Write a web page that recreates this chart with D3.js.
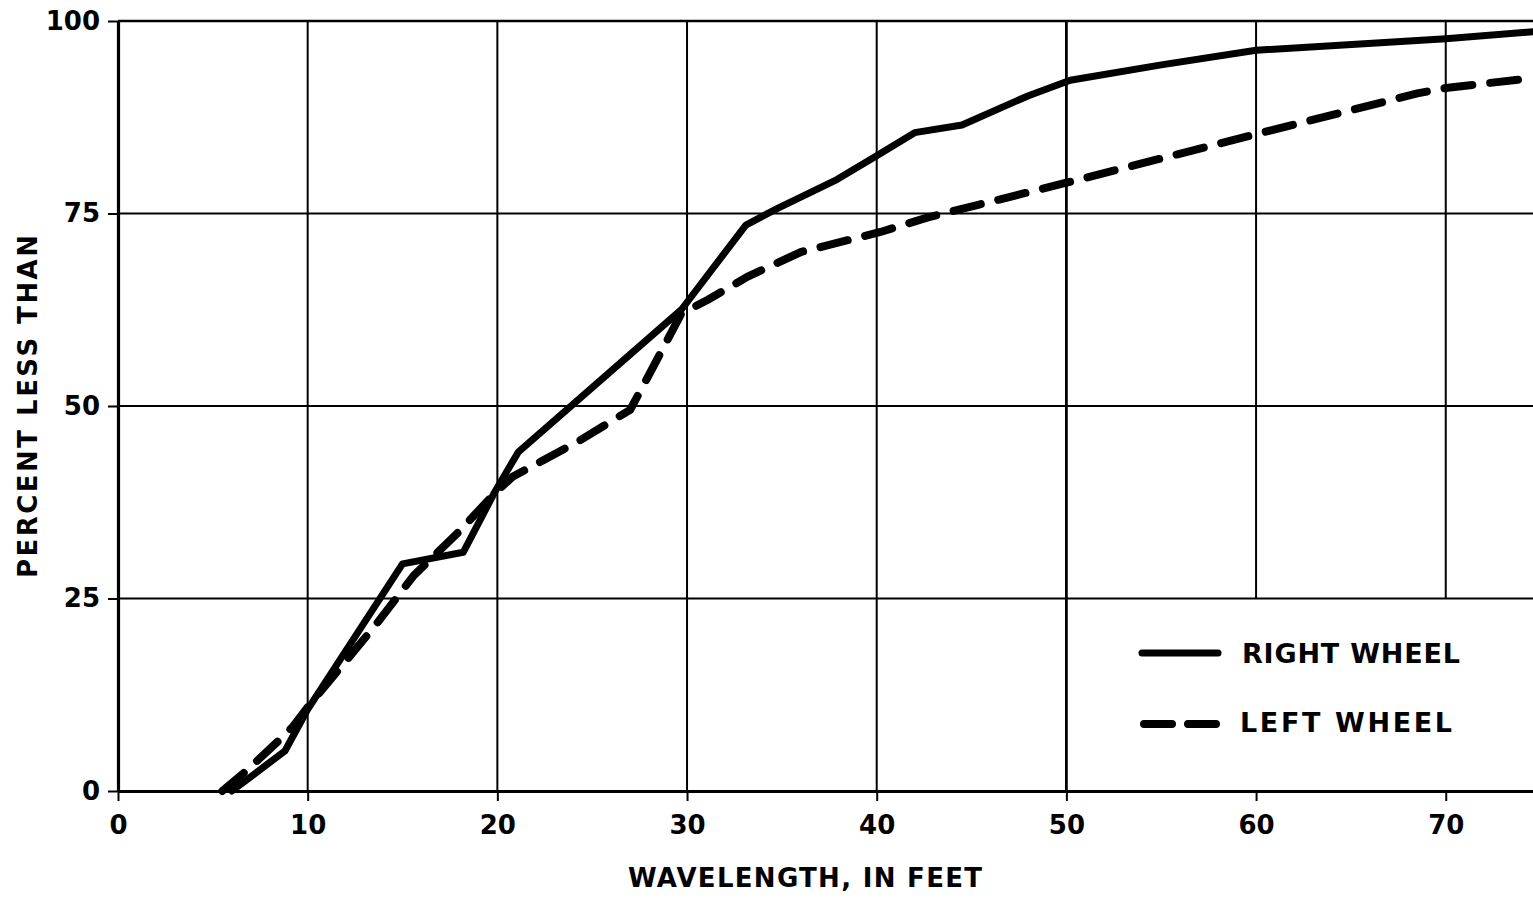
<!DOCTYPE html>
<html>
<head>
<meta charset="utf-8">
<script src="https://cdn.jsdelivr.net/npm/d3@7"></script>
<style>
  html, body { margin: 0; padding: 0; background: #fff; }
  svg { display: block; }
  text { font-family: "DejaVu Sans", sans-serif; font-weight: bold; fill: #000; }
</style>
</head>
<body>
<svg id="chart" width="1533" height="902"></svg>
<script>
// ---- data ----
const xTicks = [0, 10, 20, 30, 40, 50, 60, 70];
const yTicks = [0, 25, 50, 75, 100];

const rightWheelX = [6.0, 8.8, 10.0, 15.0, 18.2, 19.9, 21.1, 29.7, 33.1, 34.8, 37.9, 40.0, 42.0, 44.5, 48.0, 50.2, 55.0, 60.0, 70.0, 74.6];
const rightWheelY = [0.0, 5.2, 10.6, 29.5, 31.0, 39.0, 44.0, 62.5, 73.5, 75.7, 79.4, 82.5, 85.5, 86.5, 90.3, 92.3, 94.3, 96.2, 97.7, 98.6];

const leftWheelX = [5.5, 6.8, 8.5, 9.2, 10.1, 13.5, 15.6, 17.9, 20.0, 20.8, 24.4, 27.0, 27.7, 29.7, 31.1, 33.2, 36.0, 40.2, 42.7, 45.3, 50.0, 60.0, 68.5, 70.0, 74.6];
const leftWheelY = [0.0, 2.7, 6.6, 8.3, 11.2, 21.3, 28.0, 33.5, 39.0, 40.8, 45.6, 49.5, 52.7, 62.0, 63.8, 66.8, 70.0, 72.6, 74.5, 76.1, 79.0, 85.3, 90.6, 91.3, 92.6];

const legendLabels = ["RIGHT WHEEL", "LEFT WHEEL"];
const xTitle = "WAVELENGTH, IN FEET";
const yTitle = "PERCENT LESS THAN";

// ---- layout ----
const svg = d3.select("#chart");
const x = d3.scaleLinear().domain([0, 74.6]).range([118, 1533]);
const y = d3.scaleLinear().domain([0, 100]).range([791, 21]);

const rightData = rightWheelX.map((v, i) => [v, rightWheelY[i]]);
const leftData = leftWheelX.map((v, i) => [v, leftWheelY[i]]);

// grid
const grid = svg.append("g").attr("stroke", "#000").attr("fill", "none");
yTicks.filter(t => t > 0).forEach(t => {
  grid.append("line")
    .attr("x1", x(0)).attr("x2", x(74.6))
    .attr("y1", y(t)).attr("y2", y(t))
    .attr("stroke-width", t === 100 ? 2.6 : 2);
});
// vertical gridlines (60 and 70 stop at the legend box top)
xTicks.filter(t => t > 0).forEach(t => {
  grid.append("line")
    .attr("x1", x(t)).attr("x2", x(t))
    .attr("y1", y(100)).attr("y2", t > 50 ? y(25) : y(0))
    .attr("stroke-width", t === 50 ? 2.8 : 2);
});

// axes
const xAxis = d3.axisBottom(x).tickValues(xTicks).tickSize(10).tickSizeOuter(0).tickPadding(15).tickFormat(d3.format("d"));
const yAxis = d3.axisLeft(y).tickValues(yTicks).tickSize(10).tickSizeOuter(0).tickPadding(8).tickFormat(d3.format("d"));

const gx = svg.append("g").attr("transform", `translate(0,${y(0)})`).call(xAxis);
const gy = svg.append("g").attr("transform", `translate(${x(0)},0)`).call(yAxis);
[gx, gy].forEach(g => {
  g.select(".domain").attr("stroke", "#000").attr("stroke-width", 3.2);
  g.selectAll(".tick line").attr("stroke", "#000").attr("stroke-width", 2);
  g.selectAll(".tick text").attr("font-size", 26)
    .attr("font-family", "DejaVu Sans Condensed, DejaVu Sans, sans-serif")
    .attr("font-weight", "bold").attr("fill", "#000");
});

// lines
const line = d3.line().x(d => x(d[0])).y(d => y(d[1]));
svg.append("path").datum(rightData)
  .attr("d", line).attr("fill", "none").attr("stroke", "#000")
  .attr("stroke-width", 7).attr("stroke-linejoin", "round").attr("stroke-linecap", "round");
svg.append("path").datum(leftData)
  .attr("d", line).attr("fill", "none").attr("stroke", "#000")
  .attr("stroke-width", 8).attr("stroke-dasharray", "28 18").attr("stroke-linecap", "round");

// legend
const lg = svg.append("g");
lg.append("line").attr("x1", 1142).attr("x2", 1218).attr("y1", 653).attr("y2", 653)
  .attr("stroke", "#000").attr("stroke-width", 7).attr("stroke-linecap", "round");
lg.append("line").attr("x1", 1144).attr("x2", 1216).attr("y1", 724).attr("y2", 724)
  .attr("stroke", "#000").attr("stroke-width", 8).attr("stroke-dasharray", "28 16").attr("stroke-linecap", "round");
lg.append("text").attr("x", 1242).attr("y", 663).attr("font-size", 27)
  .attr("textLength", 218).attr("lengthAdjust", "spacing").text(legendLabels[0]);
lg.append("text").attr("x", 1240).attr("y", 732).attr("font-size", 27)
  .attr("textLength", 212).attr("lengthAdjust", "spacing").text(legendLabels[1]);

// titles
svg.append("text").attr("x", 628).attr("y", 887).attr("font-size", 26)
  .attr("textLength", 354).attr("lengthAdjust", "spacing").text(xTitle);
svg.append("text").attr("transform", "translate(37,578) rotate(-90)").attr("font-size", 26)
  .attr("textLength", 343).attr("lengthAdjust", "spacing").text(yTitle);
</script>
</body>
</html>
